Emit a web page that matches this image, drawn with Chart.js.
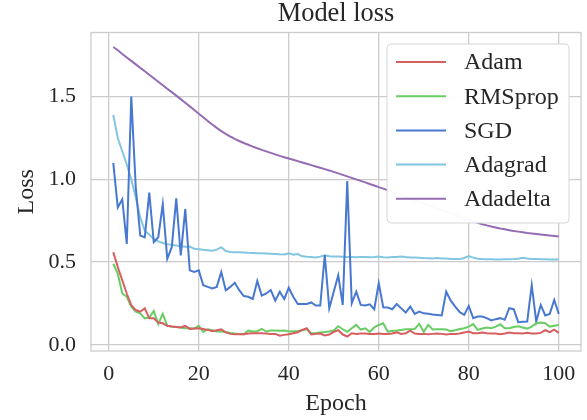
<!DOCTYPE html>
<html>
<head>
<meta charset="utf-8">
<script src="https://cdn.jsdelivr.net/npm/chart.js@4.4.0/dist/chart.umd.min.js"></script>
<style>
html,body{margin:0;padding:0;background:#fff;}
canvas{display:block;}
</style>
</head>
<body>
<canvas id="c" width="587" height="420"></canvas>
<script>
const epochs = Array.from({length:100},(_, i)=>i+1);
const xTicks = [0,20,40,60,80,100];
const yTicks = [0.0,0.5,1.0,1.5];
const seriesNames = ['Adam','RMSprop','SGD','Adagrad','Adadelta'];
const seriesColors = ['#d65f5f','#6acc64','#4878d0','#82c6e2','#956cb4'];

const adam = [0.56,0.47,0.39,0.31,0.24,0.21,0.20,0.22,0.16,0.16,
0.135,0.13,0.115,0.11,0.108,0.105,0.114,0.096,0.098,0.10,
0.095,0.09,0.082,0.088,0.093,0.075,0.066,0.064,0.064,0.064,
0.068,0.07,0.07,0.07,0.068,0.066,0.066,0.055,0.06,0.064,
0.07,0.076,0.09,0.10,0.062,0.066,0.068,0.056,0.062,0.078,
0.088,0.062,0.05,0.07,0.066,0.068,0.068,0.066,0.066,0.068,
0.066,0.066,0.068,0.076,0.066,0.07,0.085,0.068,0.066,0.066,
0.064,0.066,0.068,0.066,0.062,0.066,0.066,0.068,0.074,0.08,
0.07,0.07,0.074,0.07,0.068,0.068,0.064,0.068,0.074,0.07,
0.07,0.068,0.072,0.068,0.068,0.072,0.088,0.076,0.092,0.072];

const rmsprop = [0.49,0.43,0.31,0.29,0.23,0.20,0.19,0.16,0.165,0.205,
0.125,0.187,0.115,0.11,0.107,0.104,0.10,0.10,0.098,0.114,
0.078,0.094,0.088,0.08,0.08,0.077,0.072,0.068,0.066,0.064,
0.086,0.08,0.082,0.096,0.08,0.086,0.086,0.085,0.086,0.08,
0.082,0.084,0.088,0.094,0.07,0.072,0.075,0.077,0.08,0.086,
0.112,0.094,0.078,0.10,0.12,0.092,0.10,0.078,0.105,0.12,
0.13,0.08,0.083,0.086,0.09,0.094,0.094,0.096,0.126,0.078,
0.12,0.092,0.094,0.094,0.092,0.082,0.088,0.095,0.10,0.11,
0.125,0.09,0.098,0.105,0.10,0.11,0.124,0.10,0.10,0.108,
0.112,0.104,0.098,0.11,0.13,0.134,0.13,0.11,0.115,0.12];

const sgd = [1.10,0.83,0.88,0.61,1.50,0.95,0.66,0.65,0.92,0.62,
0.65,0.85,0.52,0.59,0.885,0.54,0.82,0.45,0.44,0.45,
0.36,0.35,0.34,0.35,0.44,0.33,0.35,0.375,0.33,0.295,
0.29,0.277,0.386,0.297,0.31,0.331,0.267,0.321,0.277,0.345,
0.29,0.247,0.247,0.247,0.256,0.237,0.237,0.542,0.221,0.32,
0.42,0.241,0.99,0.251,0.321,0.241,0.238,0.245,0.215,0.372,
0.227,0.225,0.215,0.247,0.22,0.195,0.231,0.187,0.201,0.19,
0.187,0.183,0.18,0.177,0.321,0.267,0.231,0.197,0.181,0.235,
0.161,0.171,0.171,0.161,0.147,0.155,0.161,0.151,0.221,0.215,
0.137,0.14,0.141,0.361,0.141,0.241,0.177,0.187,0.271,0.187];

const adagrad = [1.39,1.25,1.17,1.09,1.00,0.89,0.77,0.69,0.665,0.64,
0.625,0.615,0.608,0.604,0.60,0.596,0.593,0.594,0.58,0.577,
0.574,0.572,0.568,0.575,0.59,0.567,0.561,0.559,0.56,0.558,
0.556,0.555,0.554,0.553,0.552,0.551,0.549,0.547,0.546,0.553,
0.544,0.548,0.535,0.532,0.53,0.528,0.533,0.541,0.535,0.534,
0.533,0.532,0.531,0.53,0.529,0.53,0.531,0.529,0.53,0.533,
0.529,0.528,0.53,0.531,0.534,0.53,0.528,0.527,0.526,0.524,
0.523,0.522,0.524,0.522,0.521,0.519,0.518,0.518,0.525,0.536,
0.527,0.52,0.518,0.517,0.517,0.516,0.516,0.517,0.517,0.518,
0.52,0.526,0.521,0.518,0.518,0.517,0.517,0.516,0.516,0.515];

const adadelta = [1.80,1.78,1.758,1.737,1.716,1.695,1.674,1.653,1.632,1.611,
1.59,1.569,1.548,1.527,1.506,1.485,1.463,1.441,1.419,1.397,
1.375,1.353,1.332,1.311,1.292,1.275,1.259,1.245,1.232,1.22,
1.209,1.198,1.188,1.178,1.169,1.16,1.151,1.142,1.134,1.126,
1.118,1.11,1.102,1.094,1.086,1.078,1.07,1.062,1.054,1.045,
1.036,1.027,1.018,1.009,1.0,0.991,0.982,0.972,0.963,0.953,
0.944,0.934,0.924,0.914,0.904,0.894,0.884,0.874,0.864,0.854,
0.844,0.834,0.824,0.814,0.804,0.794,0.785,0.775,0.765,0.755,
0.746,0.737,0.729,0.722,0.715,0.709,0.703,0.698,0.693,0.688,
0.684,0.68,0.676,0.673,0.67,0.667,0.664,0.661,0.658,0.655];

const seriesValues = [adam, rmsprop, sgd, adagrad, adadelta];

const SERIF = "'Liberation Serif', 'DejaVu Serif', serif";
const TXT = '#262626';
const GRID = '#cccccc';

const datasets = seriesNames.map((name, k) => ({
  label: name,
  data: epochs.map((e, i) => ({x: e, y: seriesValues[k][i]})),
  borderColor: seriesColors[k],
  backgroundColor: seriesColors[k],
  borderWidth: 2,
  pointRadius: 0,
  tension: 0,
  fill: false
}));

const framePlugin = {
  id: 'frame',
  beforeDatasetsDraw(chart) {
    const a = chart.chartArea, ctx = chart.ctx;
    ctx.save();
    ctx.strokeStyle = GRID;
    ctx.lineWidth = 1.3;
    ctx.strokeRect(a.left, a.top, a.right - a.left, a.bottom - a.top);
    ctx.restore();
  }
};

function roundRect(ctx, x, y, w, h, r) {
  ctx.beginPath();
  ctx.moveTo(x + r, y);
  ctx.lineTo(x + w - r, y);
  ctx.quadraticCurveTo(x + w, y, x + w, y + r);
  ctx.lineTo(x + w, y + h - r);
  ctx.quadraticCurveTo(x + w, y + h, x + w - r, y + h);
  ctx.lineTo(x + r, y + h);
  ctx.quadraticCurveTo(x, y + h, x, y + h - r);
  ctx.lineTo(x, y + r);
  ctx.quadraticCurveTo(x, y, x + r, y);
  ctx.closePath();
}

const legendPlugin = {
  id: 'boxLegend',
  afterDatasetsDraw(chart) {
    const a = chart.chartArea, ctx = chart.ctx;
    const w = 182, h = 179;
    const x0 = a.right - 12 - w, y0 = a.top + 11.5;
    ctx.save();
    roundRect(ctx, x0, y0, w, h, 4);
    ctx.fillStyle = 'rgba(255,255,255,0.97)';
    ctx.fill();
    ctx.strokeStyle = '#d6d6d6';
    ctx.lineWidth = 1;
    ctx.stroke();
    ctx.font = '24px ' + SERIF;
    ctx.textBaseline = 'middle';
    ctx.textAlign = 'left';
    chart.data.datasets.forEach((ds, i) => {
      const cy = y0 + 18 + i * 34.2;
      ctx.strokeStyle = ds.borderColor;
      ctx.lineWidth = 2;
      ctx.beginPath();
      ctx.moveTo(x0 + 9, cy);
      ctx.lineTo(x0 + 59, cy);
      ctx.stroke();
      ctx.fillStyle = TXT;
      ctx.fillText(ds.label, x0 + 77, cy + 1);
    });
    ctx.restore();
  }
};

new Chart(document.getElementById('c'), {
  type: 'line',
  data: { datasets },
  options: {
    responsive: false,
    animation: false,
    layout: { padding: { left: 0, right: 6, top: 0, bottom: 0 } },
    plugins: {
      legend: { display: false },
      tooltip: { enabled: false },
      title: {
        display: true,
        text: 'Model loss',
        fullSize: false,
        color: TXT,
        font: { family: SERIF, size: 26.4, weight: 'normal', lineHeight: 1.05 },
        padding: { top: 0, bottom: 4.8 }
      }
    },
    scales: {
      x: {
        type: 'linear',
        min: -3.95,
        max: 104.95,
        afterBuildTicks: s => { s.ticks = xTicks.map(v => ({ value: v })); },
        afterFit: s => { s.height = 69; },
        ticks: {
          color: TXT,
          font: { family: SERIF, size: 22 },
          padding: 10,
          maxRotation: 0,
          autoSkip: false,
          callback: v => String(v)
        },
        grid: { color: GRID, lineWidth: 1.3, drawTicks: false },
        border: { display: false },
        title: {
          display: true,
          text: 'Epoch',
          color: TXT,
          font: { family: SERIF, size: 24 },
          padding: { top: 0, bottom: 2 }
        }
      },
      y: {
        type: 'linear',
        min: -0.0375,
        max: 1.8875,
        afterBuildTicks: s => { s.ticks = yTicks.map(v => ({ value: v })); },
        afterFit: s => { s.width = 91; },
        ticks: {
          color: TXT,
          font: { family: SERIF, size: 22 },
          padding: 15,
          callback: v => Number(v).toFixed(1)
        },
        grid: { color: GRID, lineWidth: 1.3, drawTicks: false },
        border: { display: false },
        title: {
          display: true,
          text: 'Loss',
          color: TXT,
          font: { family: SERIF, size: 24 },
          padding: { top: 12, bottom: 0 }
        }
      }
    }
  },
  plugins: [framePlugin, legendPlugin]
});
</script>
</body>
</html>
